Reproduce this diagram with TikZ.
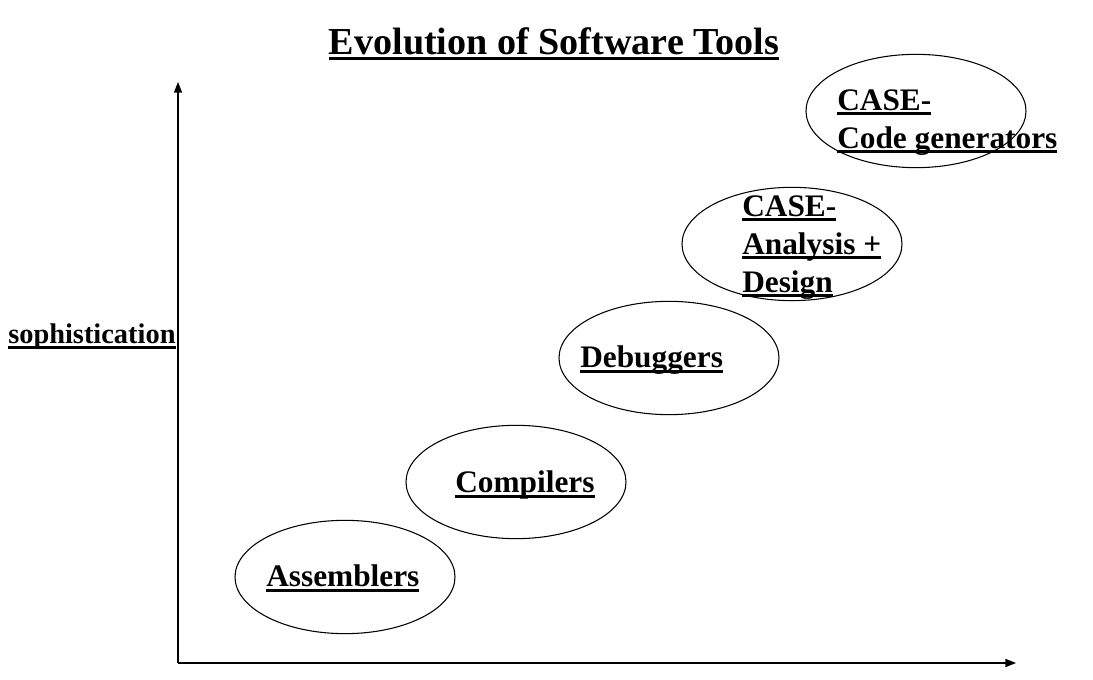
\documentclass[tikz,border=0pt]{standalone}
\usepackage{fontspec}
\setmainfont{Liberation Serif}
\usetikzlibrary{arrows.meta, shapes.geometric}
\newcommand{\ulin}[1]{{\setbox0\hbox{#1}\rlap{\rule[-3.4pt]{\wd0}{1.7pt}}\box0}}

\begin{document}
\begin{tikzpicture}[
  x=0.75pt, y=-0.75pt,
  tool/.style={ellipse, draw=black, line width=0.8pt, minimum width=165pt, minimum height=85pt, inner sep=0pt},
  label/.style={inner sep=0pt, font=\fontsize{23.5}{28.5}\selectfont\bfseries, align=left},
  axis/.style={draw, line width=1.1pt, -{Triangle[length=8pt, width=6pt]}}
]
  \useasboundingbox (0,0) rectangle (1093,680);

  % title
  \node [inner sep=0pt, anchor=base, font=\fontsize{28.6}{34}\selectfont\bfseries] (title) at (554,55) {\ulin{Evolution of Software Tools}};

  % axes
  \coordinate (origin) at (178,663);
  \coordinate (ytip) at (178,82);
  \coordinate (xtip) at (1016,663);
  \draw [axis] (origin) -- (ytip);
  \draw [axis] (origin) -- (xtip);
  \node [inner sep=0pt, anchor=base west, font=\fontsize{21.3}{26}\selectfont\bfseries] (soph) at (8,344) {\ulin{sophistication}};

  % tools
  \node [tool] (asm) at (345,577) {};
  \node [tool] (comp) at (516,482) {};
  \node [tool] (dbg) at (669,358) {};
  \node [tool] (cad) at (792,244) {};
  \node [tool] (ccg) at (916,111) {};

  \node [label, anchor=base west] (asmtext) at (266,587) {\ulin{Assemblers}};
  \node [label, anchor=base west] (comptext) at (455,493) {\ulin{Compilers}};
  \node [label, anchor=base west] (dbgtext) at (580,368) {\ulin{Debuggers}};
  \node [label, anchor=north west] (cadtext) at (742,195) {\ulin{CASE-}\\\ulin{Analysis +}\\\ulin{Design}};
  \node [label, anchor=north west] (ccgtext) at (837,89) {\ulin{CASE-}\\\ulin{Code generators}};
\end{tikzpicture}
\end{document}
